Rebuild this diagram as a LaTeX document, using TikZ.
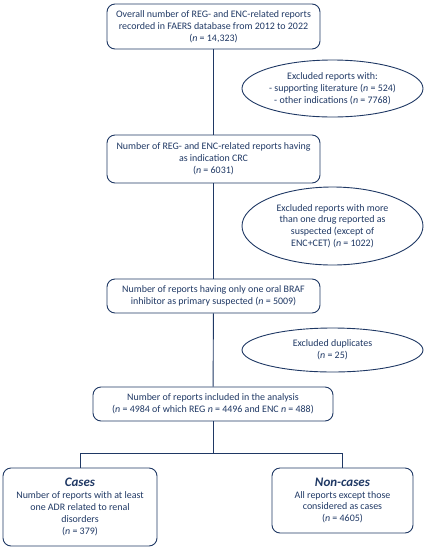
\documentclass[tikz,border=0pt]{standalone}
\usepackage{fontspec}
\setmainfont{Carlito}
\usetikzlibrary{shapes.geometric}
\definecolor{navy}{HTML}{1F3864}
\tikzset{
  stepbox/.style={draw=navy, line width=0.9pt, rounded corners=8pt, align=center, text=navy, font=\fontsize{9.95}{11.8}\selectfont, inner sep=2pt},
  exbox/.style={draw=navy, line width=0.9pt, ellipse, align=center, text=navy, font=\fontsize{9.95}{11.8}\selectfont, inner sep=0pt},
  conn/.style={draw=navy, line width=0.9pt}
}
\begin{document}
\begin{tikzpicture}[x=1pt,y=-1pt]
\useasboundingbox (0,0) rectangle (425,550);
\node[stepbox, minimum width=213pt, minimum height=45pt] (b1) at (213.5,26.5)
  {Overall number of REG- and ENC-related reports\\recorded in FAERS database from 2012 to 2022\\(\textit{n} = 14,323)};
\node[exbox, minimum width=181pt, minimum height=57pt] (e1) at (332.5,88.5)
  {Excluded reports with:\\- supporting literature (\textit{n} = 524)\\- other indications (\textit{n} = 7768)};
\node[stepbox, minimum width=213pt, minimum height=48pt] (b2) at (213.5,159)
  {Number of REG- and ENC-related reports having\\as indication CRC\\(\textit{n} = 6031)};
\node[exbox, minimum width=181pt, minimum height=78pt] (e2) at (332.5,226)
  {Excluded reports with more\\than one drug reported as\\suspected (except of\\ENC+CET) (\textit{n} = 1022)};
\node[stepbox, minimum width=213pt, minimum height=34pt] (b3) at (213.5,296)
  {Number of reports having only one oral BRAF\\inhibitor as primary suspected (\textit{n} = 5009)};
\node[exbox, minimum width=181pt, minimum height=44pt] (e3) at (332.5,350)
  {Excluded duplicates\\(\textit{n} = 25)};
\node[stepbox, minimum width=240pt, minimum height=34pt] (b4) at (213,404)
  {Number of reports included in the analysis\\(\textit{n} = 4984 of which REG \textit{n} = 4496 and ENC \textit{n} = 488)};
\node[stepbox, minimum width=154pt, minimum height=78pt] (c1) at (80,507)
  {{\fontsize{13}{14.5}\selectfont\textbf{\textit{Cases}}}\\Number of reports with at least\\one ADR related to renal\\disorders\\(\textit{n} = 379)};
\node[stepbox, minimum width=141pt, minimum height=65pt] (c2) at (342.5,500.5)
  {{\fontsize{13}{14.5}\selectfont\textbf{\textit{Non-cases}}}\\All reports except those\\considered as cases\\(\textit{n} = 4605)};
\coordinate (j) at (213,453);
\draw[conn] (b1) -- (b2);
\draw[conn] (b2) -- (b3);
\draw[conn] (b3) -- (b4);
\draw[conn] (b4) -- (j);
\draw[conn] (j) -| (c1.north);
\draw[conn] (j) -| (c2.north);
\end{tikzpicture}
\end{document}
